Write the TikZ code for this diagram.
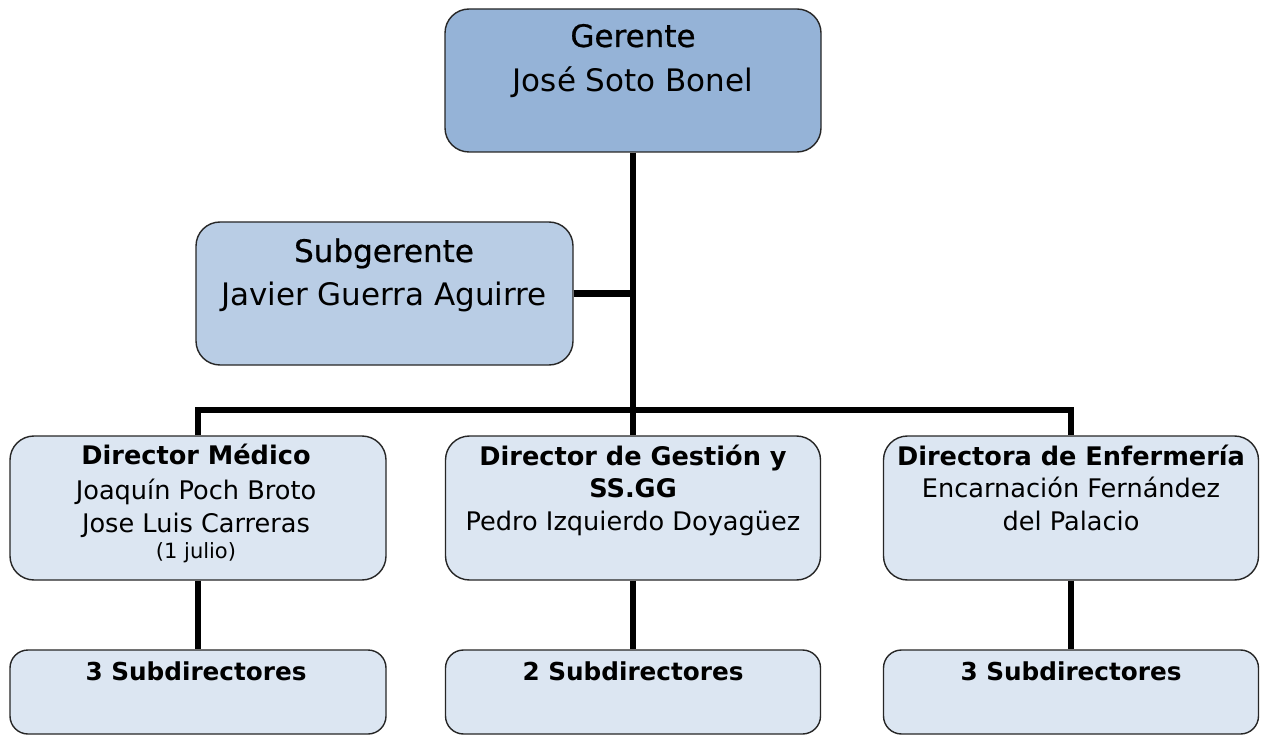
\documentclass[tikz,border=0pt]{standalone}
\usepackage{fontspec}
\setmainfont{DejaVu Sans}
\newfontfamily\titlefont{DejaVu Sans}[FakeBold=0.7]
\begin{document}
\begin{tikzpicture}[x=1pt,y=-1pt,
  box/.style={draw=black!85, line width=1.4pt, rounded corners=24pt, inner sep=0pt},
  lowbox/.style={box, rounded corners=18pt},
  conn/.style={line width=6.3pt, line cap=butt, line join=miter},
  big/.style={font=\fontsize{31}{33}\selectfont, anchor=base, inner sep=0pt},
  bigt/.style={font=\fontsize{31}{33}\selectfont\titlefont, anchor=base, inner sep=0pt},
  mid/.style={font=\fontsize{25.6}{28}\selectfont, anchor=base, inner sep=0pt},
  midb/.style={font=\fontsize{25.6}{28}\selectfont\bfseries, anchor=base, inner sep=0pt},
  lowb/.style={font=\fontsize{24.7}{27}\selectfont\bfseries, anchor=base, inner sep=0pt},
  small/.style={font=\fontsize{21}{23}\selectfont, anchor=base, inner sep=0pt}
]
\useasboundingbox (0,0) rectangle (1264,735);
\definecolor{cgA}{HTML}{95B3D7}
\definecolor{cgB}{HTML}{B9CDE5}
\definecolor{cgC}{HTML}{DCE6F2}

% boxes
\node[box, fill=cgA, minimum width=376pt, minimum height=143pt] (ger) at (633,80.5) {};
\node[box, fill=cgB, minimum width=377pt, minimum height=143pt] (sub) at (384.5,293.5) {};
\node[box, fill=cgC, minimum width=376pt, minimum height=144pt] (dm) at (198,508) {};
\node[box, fill=cgC, minimum width=375pt, minimum height=144pt] (dg) at (633,508) {};
\node[box, fill=cgC, minimum width=375pt, minimum height=144pt] (de) at (1071,508) {};
\node[lowbox, fill=cgC, minimum width=376pt, minimum height=84pt] (sm) at (198,692) {};
\node[lowbox, fill=cgC, minimum width=375pt, minimum height=84pt] (sg) at (633,692) {};
\node[lowbox, fill=cgC, minimum width=375pt, minimum height=84pt] (se) at (1071,692) {};

% connectors
\coordinate (j) at (633,410);
\draw[conn] (ger.south) -- (j);
\draw[conn] (sub.east) -- (sub.east -| ger.south);
\draw[conn] (dm.north) |- (j) -| (de.north);
\draw[conn] (j) -- (dg.north);
\draw[conn] (dm.south) -- (sm.north);
\draw[conn] (dg.south) -- (sg.north);
\draw[conn] (de.south) -- (se.north);

% texts
\node[bigt] (t1) at (633,47) {Gerente};
\node[big] (t2) at (633,92) {José Soto Bonel};
\node[bigt] (t3) at (384,262) {Subgerente};
\node[big] (t4) at (384,306) {Javier Guerra Aguirre};

\node[midb] (t5) at (196,464) {Director Médico};
\node[mid] (t6) at (196,499) {Joaquín Poch Broto};
\node[mid] (t7) at (196,532) {Jose Luis Carreras};
\node[small] (t8) at (196,558) {(1 julio)};

\node[midb] (t9) at (633,465) {Director de Gestión y};
\node[midb] (t10) at (633,497) {SS.GG};
\node[mid] (t11) at (633,530) {Pedro Izquierdo Doyagüez};

\node[midb] (t12) at (1071,465) {Directora de Enfermería};
\node[mid] (t13) at (1071,497) {Encarnación Fernández};
\node[mid] (t14) at (1071,530) {del Palacio};

\node[lowb] (t15) at (196,680) {3 Subdirectores};
\node[lowb] (t16) at (633,680) {2 Subdirectores};
\node[lowb] (t17) at (1071,680) {3 Subdirectores};
\end{tikzpicture}
\end{document}
